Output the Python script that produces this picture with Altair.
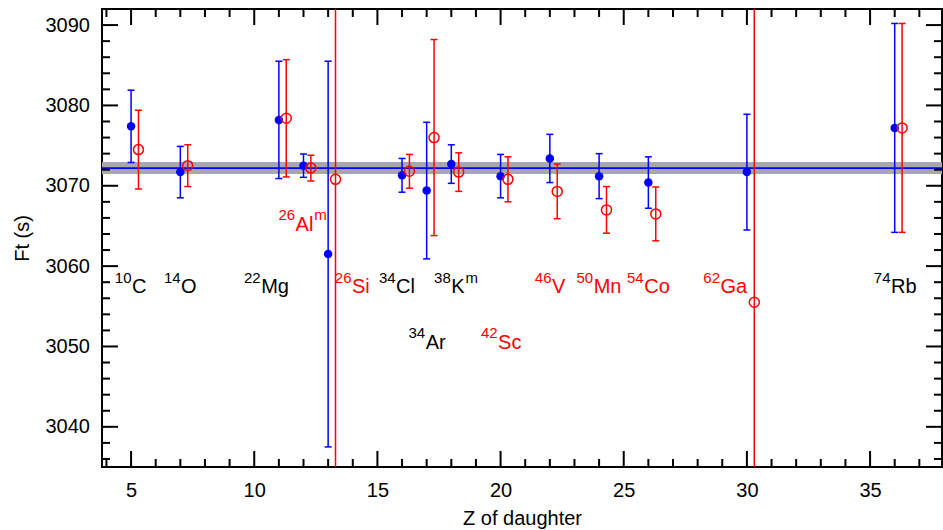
import altair as alt
import pandas as pd

# Z of the daughter nucleus for each transition
Z = [5, 7, 11, 12, 13, 16, 17, 18, 20, 22, 24, 26, 30, 36]

# Ft values (s) and 1-sigma errors, filled blue series
ft_blue = [3077.4, 3071.7, 3078.2, 3072.5, 3061.5, 3071.3, 3069.4, 3072.7,
           3071.2, 3073.4, 3071.2, 3070.4, 3071.7, 3077.2]
err_blue = [4.5, 3.2, 7.3, 1.45, 24.0, 2.1, 8.5, 2.4, 2.7, 3.0, 2.8, 3.2, 7.2, 13.0]

# Ft values (s) and 1-sigma errors, open red series
ft_red = [3074.5, 3072.5, 3078.4, 3072.2, 3070.8, 3071.8, 3076.0, 3071.7,
          3070.8, 3069.3, 3067.0, 3066.5, 3055.5, 3077.2]
err_red = [4.9, 2.6, 7.3, 1.6, 40.0, 2.1, 12.2, 2.4, 2.8, 3.4, 2.9, 3.35, 40.0, 13.0]

# Weighted average and its uncertainty band
avg_ft = 3072.2
avg_lo = 3071.45
avg_hi = 3072.95

# Nuclide labels (mass number, symbol, highlighted)
lab_mass = ["10", "14", "22", "26", "26", "34", "34", "38", "42", "46", "50", "54", "62", "74"]
lab_sym = ["C", "O", "Mg", "Al", "Si", "Cl", "Ar", "K", "Sc", "V", "Mn", "Co", "Ga", "Rb"]
lab_marked = [False, False, False, True, True, False, False, False, True, True, True, True, True, False]
lab_z = [5.04, 7.03, 10.28, 11.68, 13.97, 15.76, 16.96, 18.00, 19.90, 22.09, 23.78, 25.83, 28.93, 35.85]
lab_ft = [3056.6, 3056.6, 3056.6, 3064.4, 3056.6, 3056.6, 3049.7, 3056.6, 3049.7, 3056.6,
          3056.6, 3056.6, 3056.6, 3056.6]

# Isomer superscripts
iso_z = [12.44, 18.58]
iso_ft = [3064.4, 3056.6]
iso_marked = [True, False]

# Axis tick positions
x_major = [5, 10, 15, 20, 25, 30, 35]
x_minor = [z for z in range(4, 38) if z % 5 != 0]
y_major = [3040, 3050, 3060, 3070, 3080, 3090]
y_minor = [v for v in range(3036, 3092, 2) if v % 10 != 0]

W, H = 840, 458
FONT = "Liberation Sans"
BLUE = "#0000ff"
RED = "#ff0000"
DODGE = 0.3  # horizontal shift of the red series, in Z units

xs = alt.Scale(domain=[3.82, 37.92], nice=False, zero=False)
ys = alt.Scale(domain=[3035, 3092], nice=False, zero=False)

xax = alt.Axis(title="Z of daughter", values=x_major, format="d", ticks=False,
               domain=False, grid=False, labelFont=FONT, labelFontSize=20,
               labelColor="black", labelPadding=13, titleFont=FONT,
               titleFontSize=20, titleFontWeight="normal", titleColor="black",
               titleY=41.5)
yax = alt.Axis(title="Ft (s)", values=y_major, format="d", ticks=False,
               domain=False, grid=False, labelFont=FONT, labelFontSize=20,
               labelColor="black", labelPadding=12.5, titleFont=FONT,
               titleFontSize=20, titleFontWeight="normal", titleColor="black",
               titleX=-70, titleY=H / 2)


def X(field):
    return alt.X(field, type="quantitative", scale=xs, axis=xax)


def Y(field):
    return alt.Y(field, type="quantitative", scale=ys, axis=yax)


blue = pd.DataFrame({
    "Z": Z,
    "Ft": ft_blue,
    "lo": [f - e for f, e in zip(ft_blue, err_blue)],
    "hi": [f + e for f, e in zip(ft_blue, err_blue)],
})
red = pd.DataFrame({
    "Z": [z + DODGE for z in Z],
    "Ft": ft_red,
    "lo": [f - e for f, e in zip(ft_red, err_red)],
    "hi": [f + e for f, e in zip(ft_red, err_red)],
})

# average band and line
band = alt.Chart(pd.DataFrame({"lo": [avg_lo], "hi": [avg_hi]})).mark_rect(
    color="#a8a8a8").encode(x=alt.value(0), x2=alt.value(W), y=Y("lo"), y2="hi:Q")
avg_line = alt.Chart(pd.DataFrame({"Ft": [avg_ft]})).mark_rule(
    color=BLUE, strokeWidth=1.6).encode(x=alt.value(0), x2=alt.value(W), y=Y("Ft"))


def series(df, color, filled, size):
    bars = alt.Chart(df).mark_rule(color=color, strokeWidth=1.5, clip=True).encode(
        x=X("Z"), y=Y("lo"), y2="hi:Q")
    cap_hi = alt.Chart(df).mark_rule(color=color, strokeWidth=1.5, clip=True,
                                     xOffset=-3.5, x2Offset=3.5).encode(
        x=X("Z"), x2="Z:Q", y=Y("hi"))
    cap_lo = alt.Chart(df).mark_rule(color=color, strokeWidth=1.5, clip=True,
                                     xOffset=-3.5, x2Offset=3.5).encode(
        x=X("Z"), x2="Z:Q", y=Y("lo"))
    pts = alt.Chart(df).mark_point(shape="circle", filled=filled, color=color,
                                   opacity=1, size=size, strokeWidth=1.5,
                                   clip=True).encode(x=X("Z"), y=Y("Ft"))
    return [bars, cap_hi, cap_lo, pts]


labels = pd.DataFrame({
    "z": lab_z, "ft": lab_ft, "mass": lab_mass, "sym": lab_sym,
    "grp": ["marked" if m else "plain" for m in lab_marked],
})
isos = pd.DataFrame({
    "z": iso_z, "ft": iso_ft, "txt": ["m"] * len(iso_z),
    "grp": ["marked" if m else "plain" for m in iso_marked],
})
col = alt.Color("grp:N", scale=alt.Scale(domain=["plain", "marked"], range=["black", RED]),
                legend=None)

sym_text = alt.Chart(labels).mark_text(align="left", baseline="alphabetic", font=FONT,
                                       fontSize=20).encode(
    x=X("z"), y=Y("ft"), text="sym:N", color=col)
mass_text = alt.Chart(labels).mark_text(align="right", baseline="alphabetic", font=FONT,
                                        fontSize=15, dy=-10.5, dx=-0.5).encode(
    x=X("z"), y=Y("ft"), text="mass:N", color=col)
iso_text = alt.Chart(isos).mark_text(align="left", baseline="alphabetic", font=FONT,
                                     fontSize=15, dy=-10.5).encode(
    x=X("z"), y=Y("ft"), text="txt:N", color=col)

# inward-pointing ticks on all four sides
MAJ, MIN = 16, 8


def xticks(vals, length):
    d = pd.DataFrame({"Z": vals})
    bottom = alt.Chart(d).mark_rule(color="black", strokeWidth=2).encode(
        x=X("Z"), y=alt.value(H), y2=alt.value(H - length))
    top = alt.Chart(d).mark_rule(color="black", strokeWidth=2).encode(
        x=X("Z"), y=alt.value(0), y2=alt.value(length))
    return [bottom, top]


def yticks(vals, length):
    d = pd.DataFrame({"Ft": vals})
    left = alt.Chart(d).mark_rule(color="black", strokeWidth=2).encode(
        y=Y("Ft"), x=alt.value(0), x2=alt.value(length))
    right = alt.Chart(d).mark_rule(color="black", strokeWidth=2).encode(
        y=Y("Ft"), x=alt.value(W), x2=alt.value(W - length))
    return [left, right]


layers = ([band, avg_line]
          + series(blue, BLUE, True, 72)
          + series(red, RED, False, 100)
          + [sym_text, mass_text, iso_text]
          + xticks(x_major, MAJ) + xticks(x_minor, MIN)
          + yticks(y_major, MAJ) + yticks(y_minor, MIN))

chart = alt.layer(*layers).properties(
    width=W, height=H,
    autosize=alt.AutoSizeParams(type="none"),
    padding={"left": 102, "top": 9, "right": 1, "bottom": 63},
    background="white",
).configure_view(stroke="black", strokeWidth=2)

chart.save("out.html", embed_options={"renderer": "svg", "actions": False})
